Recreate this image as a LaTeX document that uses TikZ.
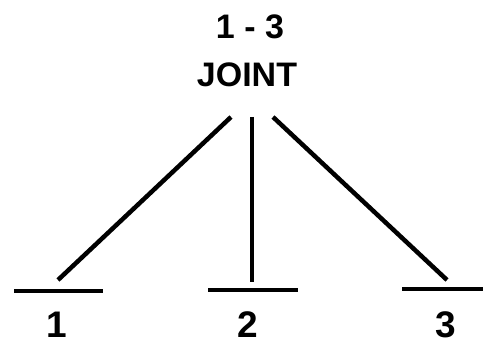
\documentclass[tikz,border=0pt]{standalone}
\usepackage{fontspec}
\setmainfont{Liberation Sans}
\usetikzlibrary{positioning,calc}

\begin{document}
\begin{tikzpicture}[x=1pt,y=-1pt,
  lbl/.style={font=\fontsize{34}{38}\selectfont\bfseries,align=center,inner sep=0pt},
  num/.style={font=\fontsize{37}{38}\selectfont\bfseries,inner sep=0pt},
  ln/.style={line width=4.5pt,draw=black},
  bar/.style={line width=4pt,draw=black}]
\useasboundingbox (0,0) rectangle (483,347);
\node[lbl] (top) at (250,27) {1 - 3};
\node[lbl] (joint) at (247,75) {JOINT};
% spread of the three legs under the label
\coordinate (s1) at (231,117);
\coordinate (s2) at (252,117);
\coordinate (s3) at (273,117);
\coordinate (e1) at (58,280);
\coordinate (e2) at (252,282);
\coordinate (e3) at (447,280);
\coordinate (b1l) at (14,291); \coordinate (b1r) at (103,291);
\coordinate (b2l) at (208,290); \coordinate (b2r) at (298,290);
\coordinate (b3l) at (402,289); \coordinate (b3r) at (483,289);
\draw[ln] (s1) -- (e1);
\draw[ln] (s2) -- (e2);
\draw[ln] (s3) -- (e3);
\draw[bar] (b1l) -- (b1r);
\draw[bar] (b2l) -- (b2r);
\draw[bar] (b3l) -- (b3r);
\node[num] (n1) at (57,325) {1};
\node[num] (n2) at (248,325) {2};
\node[num] (n3) at (446,325) {3};
\end{tikzpicture}
\end{document}
